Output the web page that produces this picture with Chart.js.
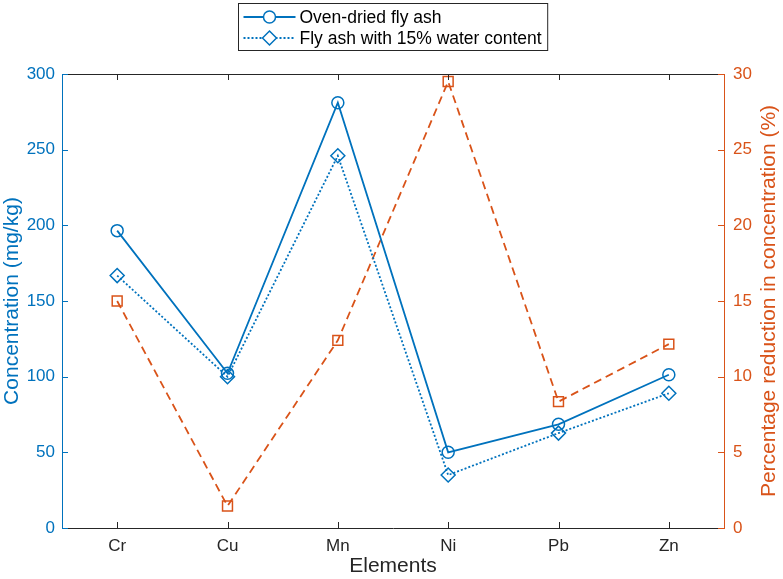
<!DOCTYPE html>
<html>
<head>
<meta charset="utf-8">
<script src="https://cdn.jsdelivr.net/npm/chart.js@4"></script>
<style>
  html, body { margin: 0; padding: 0; background: #fff; }
  #wrap { width: 783px; height: 579px; }
</style>
</head>
<body>
<div id="wrap"><canvas id="chart" width="783" height="579"></canvas></div>
<script>
const elements = ['Cr', 'Cu', 'Mn', 'Ni', 'Pb', 'Zn'];
const ovenDried = [196.5, 102.2, 281, 50, 68.5, 101.3];
const wetAsh = [166.8, 100, 246, 35, 62.7, 89];
const reduction = [15, 1.45, 12.4, 29.5, 8.35, 12.15];

const BLUE = '#0072BD';
const ORANGE = '#D95319';
const DARK = '#262626';
const FONT = "'Liberation Sans', Arial, sans-serif";
const RIGHT_TITLE = 'Percentage reduction in concentration (%)';

// MATLAB-like box: top edge, inward tick marks, right title read bottom-up
const framePlugin = {
  id: 'frame',
  afterDraw(chart) {
    const { ctx, chartArea: a, scales } = chart;
    ctx.save();
    ctx.lineWidth = 1;
    ctx.strokeStyle = DARK;
    ctx.beginPath();
    ctx.moveTo(a.left, a.top + 0.5);
    ctx.lineTo(a.right, a.top + 0.5);
    ctx.stroke();

    const len = 6;
    ctx.beginPath();
    scales.x.ticks.forEach((t, i) => {
      const x = Math.round(scales.x.getPixelForTick(i)) + 0.5;
      ctx.moveTo(x, a.bottom); ctx.lineTo(x, a.bottom - len);
      ctx.moveTo(x, a.top); ctx.lineTo(x, a.top + len);
    });
    ctx.stroke();

    ctx.strokeStyle = BLUE;
    ctx.beginPath();
    scales.y.ticks.forEach((t, i) => {
      const y = Math.round(scales.y.getPixelForTick(i)) + 0.5;
      ctx.moveTo(a.left, y); ctx.lineTo(a.left + len, y);
    });
    ctx.stroke();

    ctx.strokeStyle = ORANGE;
    ctx.beginPath();
    scales.y1.ticks.forEach((t, i) => {
      const y = Math.round(scales.y1.getPixelForTick(i)) + 0.5;
      ctx.moveTo(a.right, y); ctx.lineTo(a.right - len, y);
    });
    ctx.stroke();

    ctx.translate(scales.y1.right - 14, (a.top + a.bottom) / 2);
    ctx.rotate(-Math.PI / 2);
    ctx.font = '21px ' + FONT;
    ctx.fillStyle = ORANGE;
    ctx.textAlign = 'center';
    ctx.textBaseline = 'middle';
    ctx.fillText(RIGHT_TITLE, 0, 0);
    ctx.restore();
  }
};

// boxed legend with line + marker samples
const legendPlugin = {
  id: 'boxLegend',
  afterDraw(chart) {
    const { ctx, chartArea: a } = chart;
    const items = chart.data.datasets.filter(d => d.inLegend);
    ctx.save();
    ctx.font = '17.5px ' + FONT;
    const sample = 52, gap = 4, padL = 5, padR = 6, rowH = 21;
    const textW = Math.max(...items.map(d => ctx.measureText(d.label).width));
    const w = padL + sample + gap + textW + padR;
    const h = rowH * items.length + 5;
    const left = Math.round((a.left + a.right) / 2 - w / 2) + 0.5;
    const top = 3.5;
    ctx.fillStyle = '#fff';
    ctx.fillRect(left, top, w, h);
    ctx.strokeStyle = DARK;
    ctx.lineWidth = 1;
    ctx.strokeRect(left, top, w, h);

    items.forEach((d, i) => {
      const y = top + 3 + rowH * i + rowH / 2;
      const x0 = left + padL;
      ctx.strokeStyle = d.borderColor;
      ctx.lineWidth = d.borderWidth;
      ctx.setLineDash(d.borderDash || []);
      ctx.beginPath();
      ctx.moveTo(x0, y); ctx.lineTo(x0 + sample, y);
      ctx.stroke();
      ctx.setLineDash([]);
      ctx.fillStyle = '#fff';
      ctx.lineWidth = d.pointBorderWidth;
      Chart.helpers.drawPoint(ctx, {
        pointStyle: d.pointStyle, radius: d.pointRadius, rotation: 0,
        borderWidth: d.pointBorderWidth
      }, x0 + sample / 2, y);
      ctx.fillStyle = '#000';
      ctx.textBaseline = 'middle';
      ctx.textAlign = 'left';
      ctx.fillText(d.label, x0 + sample + gap, y + 1);
    });
    ctx.restore();
  }
};

const chartConfig = {
  type: 'line',
  data: {
    labels: elements,
    datasets: [
      {
        label: 'Oven-dried fly ash',
        inLegend: true,
        data: ovenDried,
        yAxisID: 'y',
        borderColor: BLUE,
        backgroundColor: 'rgba(0,0,0,0)',
        borderWidth: 1.8,
        pointStyle: 'circle',
        pointRadius: 6,
        pointBorderWidth: 1.5,
        pointBackgroundColor: 'rgba(0,0,0,0)',
        tension: 0,
      },
      {
        label: 'Fly ash with 15% water content',
        inLegend: true,
        data: wetAsh,
        yAxisID: 'y',
        borderColor: BLUE,
        backgroundColor: 'rgba(0,0,0,0)',
        borderWidth: 1.8,
        borderDash: [2, 2],
        pointStyle: 'rectRot',
        pointRadius: 7,
        pointBorderWidth: 1.5,
        pointBackgroundColor: 'rgba(0,0,0,0)',
        tension: 0,
      },
      {
        label: 'Percentage reduction',
        inLegend: false,
        data: reduction,
        yAxisID: 'y1',
        borderColor: ORANGE,
        backgroundColor: 'rgba(0,0,0,0)',
        borderWidth: 1.8,
        borderDash: [8, 5],
        pointStyle: 'rect',
        pointRadius: 7,
        pointBorderWidth: 1.5,
        pointBackgroundColor: 'rgba(0,0,0,0)',
        tension: 0,
      },
    ],
  },
  options: {
    responsive: false,
    animation: false,
    layout: { padding: { top: 74, left: 0, right: 0, bottom: 0 } },
    plugins: {
      legend: { display: false },
      tooltip: { enabled: false },
    },
    scales: {
      x: {
        type: 'category',
        offset: true,
        grid: { display: false, drawTicks: false },
        border: { color: DARK, width: 1 },
        ticks: { color: DARK, font: { family: FONT, size: 17 }, padding: 8, maxRotation: 0 },
        title: { display: true, text: 'Elements', color: DARK, font: { family: FONT, size: 21 }, padding: 0 },
        afterFit: s => { s.height = 51; },
      },
      y: {
        position: 'left',
        min: 0, max: 300,
        grid: { drawOnChartArea: false, drawTicks: false },
        border: { color: BLUE, width: 1 },
        ticks: { stepSize: 50, color: BLUE, font: { family: FONT, size: 17 }, padding: 7 },
        title: { display: true, text: 'Concentration (mg/kg)', color: BLUE, font: { family: FONT, size: 21 }, padding: 0 },
        afterFit: s => { s.width = 62; },
      },
      y1: {
        position: 'right',
        min: 0, max: 30,
        grid: { drawOnChartArea: false, drawTicks: false },
        border: { color: ORANGE, width: 1 },
        ticks: { stepSize: 5, color: ORANGE, font: { family: FONT, size: 17 }, padding: 9 },
        title: { display: false },
        afterFit: s => { s.width = 59; },
      },
    },
  },
  plugins: [framePlugin, legendPlugin],
};

new Chart(document.getElementById('chart'), chartConfig);
</script>
</body>
</html>
